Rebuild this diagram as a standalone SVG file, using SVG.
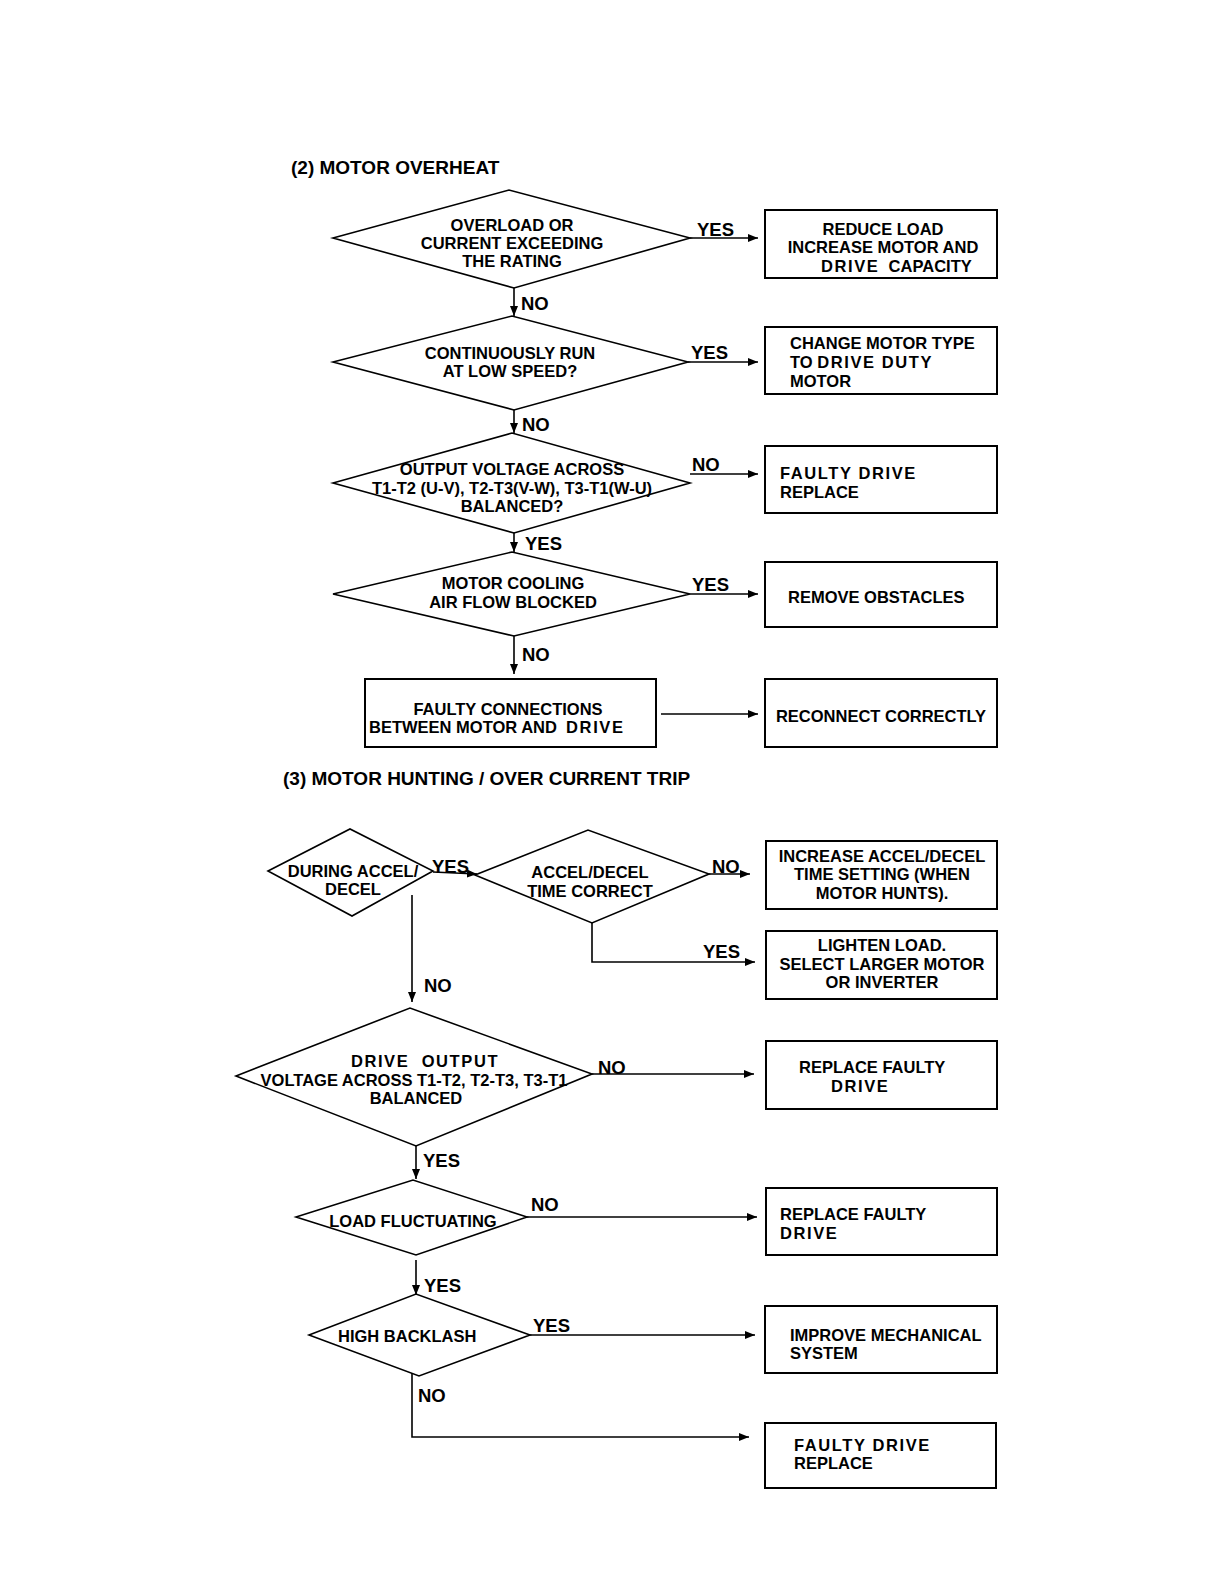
<svg xmlns="http://www.w3.org/2000/svg" width="1224" height="1584" viewBox="0 0 1224 1584">
<defs>
<marker id="ah" markerUnits="userSpaceOnUse" markerWidth="10" markerHeight="8" refX="10" refY="4" orient="auto">
<path d="M0,0 L10,4 L0,8 z" fill="#000"/>
</marker>
<style>
.d{fill:#fff;stroke:#000;stroke-width:1.6}
.b{fill:#fff;stroke:#000;stroke-width:2}
.c{fill:none;stroke:#000;stroke-width:1.6}
.a{fill:none;stroke:#000;stroke-width:1.6;marker-end:url(#ah)}
text{font-family:"Liberation Sans",Arial,sans-serif;font-weight:bold;fill:#000}
.t{font-size:16.5px}
.m{text-anchor:middle}
.l{font-size:18.5px}
.h{font-size:19px}
.s{letter-spacing:1.6px}
</style>
</defs>
<rect width="1224" height="1584" fill="#fff"/>

<text class="h" x="291" y="174">(2) MOTOR OVERHEAT</text>
<text class="h" x="283" y="785">(3) MOTOR HUNTING / OVER CURRENT TRIP</text>

<g id="q1">
<polygon class="d" points="333,238 509,190 690,238 514,288"/>
<text class="t m" x="512" y="231">OVERLOAD OR</text>
<text class="t m" x="512" y="249">CURRENT EXCEEDING</text>
<text class="t m" x="512" y="267">THE RATING</text>
</g>
<g id="r1">
<rect class="b" x="765" y="210" width="232" height="68"/>
<text class="t m" x="883" y="235">REDUCE LOAD</text>
<text class="t m" x="883" y="253">INCREASE MOTOR AND</text>
<text class="t" x="821" y="272" xml:space="preserve"><tspan class="s">DRIVE</tspan>  CAPACITY</text>
</g>
<g id="q2">
<polygon class="d" points="333,362 512,316 688,362 514,410"/>
<text class="t m" x="510" y="359">CONTINUOUSLY RUN</text>
<text class="t m" x="510" y="377">AT LOW SPEED?</text>
</g>
<g id="r2">
<rect class="b" x="765" y="327" width="232" height="67"/>
<text class="t" x="790" y="349">CHANGE MOTOR TYPE</text>
<text class="t" x="790" y="368">TO <tspan class="s">DRIVE DUTY</tspan></text>
<text class="t" x="790" y="387">MOTOR</text>
</g>
<g id="q3">
<polygon class="d" points="333,483 512,433 690,483 514,533"/>
<text class="t m" x="512" y="475">OUTPUT VOLTAGE ACROSS</text>
<text class="t m" x="512" y="494">T1-T2 (U-V), T2-T3(V-W), T3-T1(W-U)</text>
<text class="t m" x="512" y="512">BALANCED?</text>
</g>
<g id="r3">
<rect class="b" x="765" y="446" width="232" height="67"/>
<text class="t" x="780" y="479"><tspan class="s">FAULTY DRIVE</tspan></text>
<text class="t" x="780" y="498">REPLACE</text>
</g>
<g id="q4">
<polygon class="d" points="333,594 512,552 690,594 514,636"/>
<text class="t m" x="513" y="589">MOTOR COOLING</text>
<text class="t m" x="513" y="608">AIR FLOW BLOCKED</text>
</g>
<g id="r4">
<rect class="b" x="765" y="562" width="232" height="65"/>
<text class="t" x="788" y="603">REMOVE OBSTACLES</text>
</g>
<g id="r5">
<rect class="b" x="365" y="679" width="291" height="68"/>
<text class="t m" x="508" y="715">FAULTY CONNECTIONS</text>
<text class="t" x="369" y="733" xml:space="preserve">BETWEEN MOTOR AND  <tspan class="s">DRIVE</tspan></text>
</g>
<g id="r6">
<rect class="b" x="765" y="679" width="232" height="68"/>
<text class="t m" x="881" y="722">RECONNECT CORRECTLY</text>
</g>

<g id="qa">
<polygon class="d" points="268,871 350,829 433,871 352,916"/>
<text class="t m" x="353" y="877">DURING ACCEL/</text>
<text class="t m" x="353" y="895">DECEL</text>
</g>
<g id="qb">
<polygon class="d" points="475,875 588,830 709,874 592,923"/>
<text class="t m" x="590" y="878">ACCEL/DECEL</text>
<text class="t m" x="590" y="897">TIME CORRECT</text>
</g>
<g id="rb1">
<rect class="b" x="766" y="841" width="231" height="68"/>
<text class="t m" x="882" y="862">INCREASE ACCEL/DECEL</text>
<text class="t m" x="882" y="880">TIME SETTING (WHEN</text>
<text class="t m" x="882" y="899">MOTOR HUNTS).</text>
</g>
<g id="rb2">
<rect class="b" x="766" y="931" width="231" height="68"/>
<text class="t m" x="882" y="951">LIGHTEN LOAD.</text>
<text class="t m" x="882" y="970">SELECT LARGER MOTOR</text>
<text class="t m" x="882" y="988">OR INVERTER</text>
</g>
<g id="qc">
<polygon class="d" points="236,1076 410,1008 592,1074 416,1146"/>
<text class="t m s" x="425" y="1067" xml:space="preserve">DRIVE  OUTPUT</text>
<text class="t m" x="414" y="1086">VOLTAGE ACROSS T1-T2, T2-T3, T3-T1</text>
<text class="t m" x="416" y="1104">BALANCED</text>
</g>
<g id="rc">
<rect class="b" x="766" y="1041" width="231" height="68"/>
<text class="t" x="799" y="1073">REPLACE FAULTY</text>
<text class="t" x="831" y="1092"><tspan class="s">DRIVE</tspan></text>
</g>
<g id="qd">
<polygon class="d" points="296,1217 413,1180 527,1217 416,1255"/>
<text class="t m" x="413" y="1227">LOAD FLUCTUATING</text>
</g>
<g id="rd">
<rect class="b" x="766" y="1188" width="231" height="67"/>
<text class="t" x="780" y="1220">REPLACE FAULTY</text>
<text class="t" x="780" y="1239"><tspan class="s">DRIVE</tspan></text>
</g>
<g id="qe">
<polygon class="d" points="309,1335 416,1294 530,1335 419,1376"/>
<text class="t" x="338" y="1342">HIGH BACKLASH</text>
</g>
<g id="re">
<rect class="b" x="765" y="1306" width="232" height="67"/>
<text class="t" x="790" y="1341">IMPROVE MECHANICAL</text>
<text class="t" x="790" y="1359">SYSTEM</text>
</g>
<g id="rf">
<rect class="b" x="765" y="1423" width="231" height="65"/>
<text class="t" x="794" y="1451"><tspan class="s">FAULTY DRIVE</tspan></text>
<text class="t" x="794" y="1469">REPLACE</text>
</g>

<g id="connectors">
<line class="a" x1="690" y1="238" x2="758" y2="238"/>
<line class="a" x1="514" y1="288" x2="514" y2="316"/>
<line class="a" x1="688" y1="362" x2="758" y2="362"/>
<line class="a" x1="514" y1="410" x2="514" y2="433"/>
<line class="a" x1="690" y1="474" x2="758" y2="474"/>
<line class="a" x1="514" y1="533" x2="514" y2="552"/>
<line class="a" x1="690" y1="594" x2="758" y2="594"/>
<line class="a" x1="514" y1="636" x2="514" y2="674"/>
<line class="a" x1="661" y1="714" x2="758" y2="714"/>
<line class="a" x1="433" y1="872" x2="477" y2="874"/>
<line class="a" x1="709" y1="874" x2="750" y2="874"/>
<polyline class="a" points="592,923 592,962 755,962"/>
<line class="a" x1="412" y1="895" x2="412" y2="1002"/>
<line class="a" x1="592" y1="1074" x2="754" y2="1074"/>
<line class="a" x1="416" y1="1146" x2="416" y2="1179"/>
<line class="a" x1="527" y1="1217" x2="757" y2="1217"/>
<line class="a" x1="416" y1="1260" x2="416" y2="1295"/>
<line class="a" x1="530" y1="1335" x2="755" y2="1335"/>
<polyline class="a" points="412,1373 412,1437 749,1437"/>
<text class="l" x="697" y="236">YES</text>
<text class="l" x="521" y="310">NO</text>
<text class="l" x="691" y="359">YES</text>
<text class="l" x="522" y="431">NO</text>
<text class="l" x="692" y="471">NO</text>
<text class="l" x="525" y="550">YES</text>
<text class="l" x="692" y="591">YES</text>
<text class="l" x="522" y="661">NO</text>
<text class="l" x="432" y="873">YES</text>
<text class="l" x="712" y="873">NO</text>
<text class="l" x="703" y="958">YES</text>
<text class="l" x="424" y="992">NO</text>
<text class="l" x="598" y="1074">NO</text>
<text class="l" x="423" y="1167">YES</text>
<text class="l" x="531" y="1211">NO</text>
<text class="l" x="424" y="1292">YES</text>
<text class="l" x="533" y="1332">YES</text>
<text class="l" x="418" y="1402">NO</text>
</g>
</svg>
